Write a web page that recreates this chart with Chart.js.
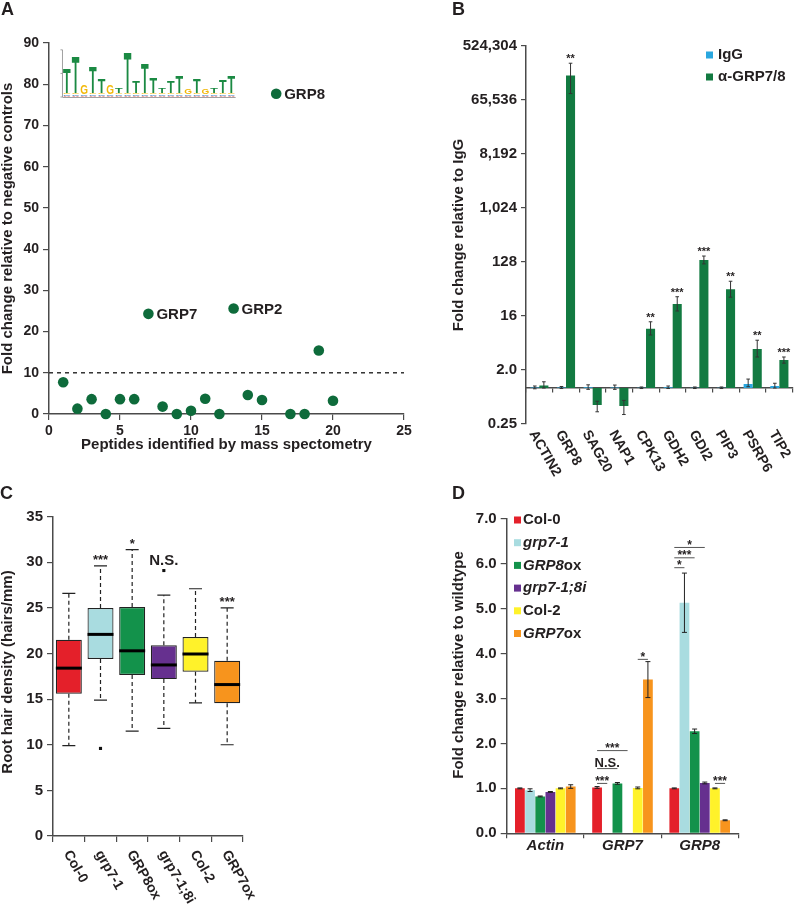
<!DOCTYPE html>
<html>
<head>
<meta charset="utf-8">
<title>GRP7/GRP8 figure</title>
<script src="https://cdn.jsdelivr.net/npm/chart.js@4.4.1/dist/chart.umd.min.js"></script>
<style>
  html, body { margin:0; padding:0; background:#ffffff; }
  body { position:relative; width:800px; height:906px; overflow:hidden; }
  canvas { position:absolute; display:block; }
</style>
</head>
<body>
<canvas id="chartA" width="420" height="460" style="left:0;top:0"></canvas>
<canvas id="chartB" width="380" height="495" style="left:420px;top:0"></canvas>
<canvas id="chartC" width="400" height="446" style="left:0;top:460px"></canvas>
<canvas id="chartD" width="400" height="446" style="left:400px;top:460px"></canvas>
<script>
// ================= DATA =================
// ---- Panel A: peptides identified by mass spectrometry ----
const peptideIndex = [1,2,3,4,5,6,7,8,9,10,11,12,13,14,15,16,17,18,19,20];
const peptideFold  = [7.7,1.3,3.6,0,3.6,3.6,24.3,1.8,0,0.8,3.7,0,25.6,4.6,3.4,77.7,0,0,15.4,3.2];
const peptideLabel = ['','','','','','','GRP7','','','','','','GRP2','','','GRP8','','','',''];
const foldThreshold = 10;
// sequence logo inset (letter, information content in bits)
const logoLetters = ['T','T','G','T','T','G','T','T','T','T','T','T','T','T','G','T','G','T','T','T'];
const logoBits    = [2.1,3.1,0.8,2.2,1.2,0.8,0.45,3.4,0.95,2.5,1.3,0.45,0.95,1.45,0.45,1.2,0.45,0.45,1.05,1.45];

// ---- Panel B: RIP-qPCR, fold change relative to IgG (log2 axis) ----
const chipGenes = ['ACTIN2','GRP8','SAG20','NAP1','CPK13','GDH2','GDI2','PIP3','PSRP6','TIP2'];
const iggFold   = [1.02,1.02,1.03,1.02,1.01,1.03,1.01,1.01,1.17,1.08];
const iggLow    = [0.97,0.98,0.95,0.95,0.98,0.98,0.98,0.98,1.05,1.00];
const iggHigh   = [1.08,1.06,1.13,1.12,1.04,1.08,1.04,1.04,1.41,1.20];
const grpFold   = [1.1,169000,0.52,0.5,9.8,25.4,138,44.7,4.5,2.94];
const grpLow    = [1.0,84000,0.40,0.36,7.7,19.4,119,33,3.3,2.6];
const grpHigh   = [1.27,270000,0.60,0.62,12.8,33.6,161,61,6.3,3.3];
const grpSig    = ['','**','','','**','***','***','**','**','***'];
const chipTickValues = [0.25,2,16,128,1024,8192,65536,524288];
const chipTickLabels = ['0.25','2.0','16','128','1,024','8,192','65,536','524,304'];

// ---- Panel C: root hair density box plots ----
const hairLines   = ['Col-0','grp7-1','GRP8ox','grp7-1;8i','Col-2','GRP7ox'];
const boxQ1       = [15.6,19.4,17.65,17.2,18.0,14.55];
const boxQ3       = [21.5,25.0,25.1,20.9,21.8,19.2];
const boxMedian   = [18.4,22.1,20.3,18.75,19.95,16.6];
const whiskerLow  = [9.9,14.9,11.5,11.8,14.6,10.0];
const whiskerHigh = [26.6,29.6,31.4,26.4,27.1,25.0];
const outlierVals = [null,9.6,null,29.1,null,null];
const hairSig     = ['','***','*','N.S.','','***'];

// ---- Panel D: qPCR fold change relative to wildtype ----
const qpcrGenes  = ['Actin','GRP7','GRP8'];
const genotypes  = ['Col-0','grp7-1','GRP8ox','grp7-1;8i','Col-2','GRP7ox'];
const foldCol0   = [1.00,1.02,1.00];
const foldGrp71  = [0.96,0.01,5.13];
const foldGrp8ox = [0.82,1.11,2.27];
const foldGrp718i= [0.92,0.01,1.12];
const foldCol2   = [1.00,1.01,1.00];
const foldGrp7ox = [1.04,3.42,0.29];
const errCol0    = [0.01,0.02,0.01];
const errGrp71   = [0.03,0.005,0.66];
const errGrp8ox  = [0.01,0.02,0.05];
const errGrp718i = [0.01,0.005,0.02];
const errCol2    = [0.01,0.02,0.01];
const errGrp7ox  = [0.04,0.40,0.01];
// comparison brackets: gene group, genotype from, genotype to, y value, label
const qpcrBrackets = [
  {g:1, a:0, b:1, y:1.11, t:'***'},
  {g:1, a:0, b:2, y:1.44, t:'N.S.'},
  {g:1, a:0, b:3, y:1.84, t:'***'},
  {g:1, a:4, b:5, y:3.87, t:'*'},
  {g:2, a:0, b:1, y:5.91, t:'*'},
  {g:2, a:0, b:2, y:6.13, t:'***'},
  {g:2, a:0, b:3, y:6.36, t:'*'},
  {g:2, a:4, b:5, y:1.11, t:'***'}
];

// ================= STYLE =================
const FONT = '"Liberation Sans", Arial, Helvetica, sans-serif';
const TEXT = '#231f20';
const AXIS = '#4a4a4a';
const GREEN_DOT = '#0e6b3b';
const GREEN_BAR = '#127a41';
const BLUE_BAR  = '#2aa7df';
const GENO = ['#e4202a','#a9dce0','#13924b','#66308f','#fff22a','#f7941d'];

Chart.defaults.font.family = FONT;
Chart.defaults.font.weight = 'bold';
Chart.defaults.color = TEXT;

function txt(ctx, s, x, y, o) {
  o = o || {};
  ctx.save();
  ctx.font = o.font || ('bold 15px ' + FONT);
  ctx.fillStyle = o.color || TEXT;
  ctx.textAlign = o.align || 'center';
  ctx.textBaseline = o.baseline || 'middle';
  ctx.translate(x, y);
  if (o.rot) ctx.rotate(o.rot * Math.PI / 180);
  ctx.fillText(s, 0, 0);
  ctx.restore();
}
function errorBar(ctx, x, yTop, yBot, cap, color, lw) {
  ctx.save();
  ctx.strokeStyle = color; ctx.lineWidth = lw || 1;
  ctx.beginPath();
  ctx.moveTo(x, yTop); ctx.lineTo(x, yBot);
  ctx.moveTo(x - cap, yTop); ctx.lineTo(x + cap, yTop);
  ctx.moveTo(x - cap, yBot); ctx.lineTo(x + cap, yBot);
  ctx.stroke();
  ctx.restore();
}
function rotatedCategoryLabels(chart, labels, dx, y, deg, font) {
  const xs = chart.scales.x, ctx = chart.ctx;
  labels.forEach((lab, i) => {
    txt(ctx, lab, xs.getPixelForTick(i) + dx, y, {font: font, align: 'left', baseline: 'top', rot: deg});
  });
}
function stretchLetter(ctx, L, cx, bottom, w, h, color) {
  if (h < 0.8) return;
  ctx.save();
  ctx.font = 'bold 20px ' + FONT;
  ctx.fillStyle = color; ctx.textAlign = 'left'; ctx.textBaseline = 'alphabetic';
  const m = ctx.measureText(L);
  const gw = m.actualBoundingBoxRight + m.actualBoundingBoxLeft;
  const gh = m.actualBoundingBoxAscent + m.actualBoundingBoxDescent;
  ctx.translate(cx - w / 2, bottom);
  ctx.scale(w / gw, h / gh);
  ctx.fillText(L, m.actualBoundingBoxLeft, -m.actualBoundingBoxDescent);
  ctx.restore();
}
const axisGrid = (tl) => ({drawOnChartArea: false, drawTicks: true, tickLength: tl, color: AXIS, lineWidth: 1.2});
const axisBorder = {color: AXIS, width: 1.5};

// ================= PANEL A =================
const LOGO = {axisX: 0.95, x0: 1.25, step: 0.61, baseY: 76.9, bitY: 2.86, letterW: 7.5};
const aPlugin = {
  id: 'aDeco',
  afterDatasetsDraw(chart) {
    const {ctx, scales: {x, y}} = chart;
    const meta = chart.getDatasetMeta(0);
    peptideLabel.forEach((n, i) => {
      if (n) txt(ctx, n, meta.data[i].x + 8, meta.data[i].y + 1, {align: 'left', font: 'bold 15px ' + FONT});
    });
    // sequence logo inset
    const base = y.getPixelForValue(LOGO.baseY);
    const bit = base - y.getPixelForValue(LOGO.baseY + LOGO.bitY);
    const ax = x.getPixelForValue(LOGO.axisX);
    ctx.save();
    ctx.strokeStyle = '#8a8a8a'; ctx.lineWidth = 0.8;
    ctx.beginPath();
    ctx.moveTo(ax, base); ctx.lineTo(ax, base - 4 * bit);
    [0, 2, 4].forEach(b => { ctx.moveTo(ax - 2, base - b * bit); ctx.lineTo(ax, base - b * bit); });
    ctx.moveTo(ax, base + 0.5); ctx.lineTo(x.getPixelForValue(LOGO.x0 + 19.5 * LOGO.step), base + 0.5);
    ctx.stroke();
    ctx.restore();
    logoLetters.forEach((L, i) => {
      const cx = x.getPixelForValue(LOGO.x0 + i * LOGO.step);
      let b = base;
      stretchLetter(ctx, 'A', cx, b, LOGO.letterW, 0.12 * bit, '#e0403a'); b -= 0.12 * bit;
      stretchLetter(ctx, 'C', cx, b, LOGO.letterW, 0.1 * bit, '#3b83c4'); b -= 0.1 * bit;
      if (L === 'T') { stretchLetter(ctx, 'G', cx, b, LOGO.letterW, 0.12 * bit, '#f2b807'); b -= 0.12 * bit; }
      stretchLetter(ctx, L, cx, b, LOGO.letterW, logoBits[i] * bit, L === 'T' ? '#1b8a43' : '#f2b807');
    });
  },
  afterDraw(chart) {
    const ctx = chart.ctx, ca = chart.chartArea;
    txt(ctx, 'A', 1, 10, {align: 'left', font: 'bold 18px ' + FONT});
    txt(ctx, 'Fold change relative to negative controls', 8, (ca.top + ca.bottom) / 2, {rot: -90});
    txt(ctx, 'Peptides identified by mass spectometry', (ca.left + ca.right) / 2, 445);
  }
};
new Chart(document.getElementById('chartA'), {
  type: 'scatter',
  data: {
    datasets: [
      {data: peptideIndex.map((v, i) => ({x: v, y: peptideFold[i]})), backgroundColor: GREEN_DOT, borderColor: GREEN_DOT,
       pointRadius: 5.3, pointHoverRadius: 5.3, borderWidth: 0, clip: false},
      {type: 'line', data: [{x: 0, y: foldThreshold}, {x: 25, y: foldThreshold}], borderColor: '#333', borderWidth: 1.5,
       borderDash: [4, 4], pointRadius: 0, fill: false}
    ]
  },
  options: {
    responsive: false, animation: false, events: [],
    layout: {padding: {top: 43, right: 16, left: 0, bottom: 0}},
    plugins: {legend: {display: false}, tooltip: {enabled: false}},
    scales: {
      x: {type: 'linear', min: 0, max: 25, ticks: {stepSize: 5, font: {size: 14}, padding: 3, color: TEXT},
          grid: axisGrid(6), border: axisBorder, afterFit(s) { s.height = 46; }},
      y: {min: 0, max: 90, ticks: {stepSize: 10, font: {size: 14}, padding: 4, color: TEXT},
          grid: axisGrid(6), border: axisBorder, afterFit(s) { s.width = 49; }}
    }
  },
  plugins: [aPlugin]
});

// ================= PANEL B =================
const bPlugin = {
  id: 'bDeco',
  afterDatasetsDraw(chart) {
    const {ctx, scales: {y}} = chart;
    [[iggLow, iggHigh], [grpLow, grpHigh]].forEach((pair, d) => {
      chart.getDatasetMeta(d).data.forEach((bar, i) => {
        errorBar(ctx, bar.x, y.getPixelForValue(pair[1][i]), y.getPixelForValue(pair[0][i]), 1.8, '#333', 1);
      });
    });
    chart.getDatasetMeta(1).data.forEach((bar, i) => {
      if (grpSig[i]) txt(ctx, grpSig[i], bar.x, y.getPixelForValue(grpHigh[i]) - 1, {font: 'bold 11px ' + FONT, baseline: 'alphabetic'});
    });
  },
  afterDraw(chart) {
    const ctx = chart.ctx, ca = chart.chartArea;
    rotatedCategoryLabels(chart, chipGenes, -1, 428, 60, 'bold 14px ' + FONT);
    txt(ctx, 'B', 32, 10, {align: 'left', font: 'bold 18px ' + FONT});
    txt(ctx, 'Fold change relative to IgG', 39, (ca.top + ca.bottom) / 2, {rot: -90});
    // legend
    chart.data.datasets.forEach((ds, k) => {
      const cy = 55 + k * 22;
      ctx.fillStyle = ds.backgroundColor;
      ctx.fillRect(286, cy - 3.5, 7, 7);
      txt(ctx, ds.label, 298, cy, {align: 'left', font: 'bold 15px ' + FONT});
    });
  }
};
new Chart(document.getElementById('chartB'), {
  type: 'bar',
  data: {
    labels: chipGenes,
    datasets: [
      {label: 'IgG', data: iggFold, backgroundColor: BLUE_BAR, base: 1},
      {label: '\u03b1-GRP7/8', data: grpFold, backgroundColor: GREEN_BAR, base: 1}
    ]
  },
  options: {
    responsive: false, animation: false, events: [],
    layout: {padding: {top: 46, right: 7.3, left: 0, bottom: 71}},
    datasets: {bar: {categoryPercentage: 0.68, barPercentage: 1.0}},
    plugins: {legend: {display: false}, tooltip: {enabled: false}},
    scales: {
      x: {position: {y: 1}, ticks: {display: false}, grid: Object.assign(axisGrid(4), {offset: true}), border: axisBorder},
      y: {type: 'logarithmic', min: 0.25, max: 524288,
          afterBuildTicks(s) { s.ticks = chipTickValues.map(v => ({value: v})); },
          ticks: {callback: (v, i) => chipTickLabels[i], font: {size: 15}, padding: 4, color: TEXT},
          grid: axisGrid(5), border: axisBorder, afterFit(s) { s.width = 106; }}
    }
  },
  plugins: [bPlugin]
});

// ================= PANEL C =================
const cPlugin = {
  id: 'cDeco',
  afterDatasetsDraw(chart) {
    const {ctx, scales: {y}} = chart;
    const meta = chart.getDatasetMeta(0);
    meta.data.forEach((bar, i) => {
      const x = bar.x;
      ctx.save();
      ctx.strokeStyle = '#222'; ctx.lineWidth = 1.2;
      ctx.setLineDash([4, 3]);
      ctx.beginPath();
      ctx.moveTo(x, y.getPixelForValue(boxQ3[i])); ctx.lineTo(x, y.getPixelForValue(whiskerHigh[i]));
      ctx.moveTo(x, y.getPixelForValue(boxQ1[i])); ctx.lineTo(x, y.getPixelForValue(whiskerLow[i]));
      ctx.stroke();
      ctx.setLineDash([]);
      ctx.beginPath();
      [whiskerHigh[i], whiskerLow[i]].forEach(v => { const py = y.getPixelForValue(v); ctx.moveTo(x - 6.5, py); ctx.lineTo(x + 6.5, py); });
      ctx.stroke();
      // median
      ctx.strokeStyle = '#000'; ctx.lineWidth = 3;
      ctx.beginPath();
      const my = y.getPixelForValue(boxMedian[i]);
      ctx.moveTo(bar.x - bar.width / 2, my); ctx.lineTo(bar.x + bar.width / 2, my);
      ctx.stroke();
      ctx.restore();
      if (hairSig[i]) {
        const top = outlierVals[i] != null && outlierVals[i] > whiskerHigh[i] ? outlierVals[i] : whiskerHigh[i];
        const ns = hairSig[i] === 'N.S.';
        txt(ctx, hairSig[i], x, y.getPixelForValue(top) - (ns ? 6 : 1.5),
            {baseline: 'alphabetic', font: ns ? 'bold 15px ' + FONT : 'bold 13px ' + FONT});
      }
    });
  },
  afterDraw(chart) {
    const ctx = chart.ctx, ca = chart.chartArea;
    rotatedCategoryLabels(chart, hairLines, 4, ca.bottom + 12, 60, 'bold 14px ' + FONT);
    txt(ctx, 'C', 0, 34, {align: 'left', font: 'bold 18px ' + FONT});
    txt(ctx, 'Root hair density (hairs/mm)', 8, 212, {rot: -90});
  }
};
new Chart(document.getElementById('chartC'), {
  type: 'bar',
  data: {
    labels: hairLines,
    datasets: [
      {data: hairLines.map((_, i) => [boxQ1[i], boxQ3[i]]), backgroundColor: GENO, borderColor: '#222', borderWidth: 1.2,
       borderSkipped: false, barPercentage: 0.82, categoryPercentage: 1.0},
      {type: 'line', data: outlierVals, showLine: false, pointStyle: 'rect', pointRadius: 2.2, backgroundColor: '#111',
       borderColor: '#111', borderWidth: 0, clip: false}
    ]
  },
  options: {
    responsive: false, animation: false, events: [],
    layout: {padding: {top: 56.7, right: 157, left: 0, bottom: 0}},
    plugins: {legend: {display: false}, tooltip: {enabled: false}},
    scales: {
      x: {ticks: {display: false}, grid: Object.assign(axisGrid(6), {offset: true}), border: axisBorder, afterFit(s) { s.height = 70; }},
      y: {min: 0, max: 35, ticks: {stepSize: 5, font: {size: 15}, padding: 4, color: TEXT},
          grid: axisGrid(6), border: axisBorder, afterFit(s) { s.width = 53; }}
    }
  },
  plugins: [cPlugin]
});

// ================= PANEL D =================
const foldSeries = [foldCol0, foldGrp71, foldGrp8ox, foldGrp718i, foldCol2, foldGrp7ox];
const errSeries  = [errCol0, errGrp71, errGrp8ox, errGrp718i, errCol2, errGrp7ox];
function legendSegments(g) {
  if (/ox$/.test(g)) return [[g.slice(0, -2), true], ['ox', false]];
  if (/^grp/.test(g)) return [[g, true]];
  return [[g, false]];
}
const dPlugin = {
  id: 'dDeco',
  afterDatasetsDraw(chart) {
    const {ctx, scales: {y}} = chart;
    errSeries.forEach((errs, k) => {
      chart.getDatasetMeta(k).data.forEach((bar, g) => {
        const v = foldSeries[k][g], e = errs[g];
        if (e < 0.008) return;
        errorBar(ctx, bar.x, y.getPixelForValue(v + e), y.getPixelForValue(v - e), 2.5, '#222', 1);
      });
    });
    qpcrBrackets.forEach(br => {
      const xa = chart.getDatasetMeta(br.a).data[br.g].x;
      const xb = chart.getDatasetMeta(br.b).data[br.g].x;
      const py = y.getPixelForValue(br.y);
      ctx.save();
      ctx.strokeStyle = '#555'; ctx.lineWidth = 1;
      ctx.beginPath(); ctx.moveTo(xa, py); ctx.lineTo(xb, py); ctx.stroke();
      ctx.restore();
      const ns = br.t === 'N.S.';
      txt(ctx, br.t, (xa + xb) / 2, ns ? py - 1.5 : py + 1.5,
          {baseline: 'alphabetic', font: ns ? 'bold 13px ' + FONT : 'bold 12px ' + FONT});
    });
  },
  afterDraw(chart) {
    const ctx = chart.ctx;
    txt(ctx, 'D', 52, 34, {align: 'left', font: 'bold 18px ' + FONT});
    txt(ctx, 'Fold change relative to wildtype', 59, 205, {rot: -90});
    genotypes.forEach((g, k) => {
      const cy = 60 + k * 22.7;
      ctx.fillStyle = GENO[k];
      ctx.fillRect(114, cy - 3.5, 7, 7);
      let x = 123;
      legendSegments(g).forEach(seg => {
        const f = (seg[1] ? 'italic ' : '') + 'bold 15px ' + FONT;
        txt(ctx, seg[0], x, cy, {align: 'left', font: f});
        ctx.font = f;
        x += ctx.measureText(seg[0]).width;
      });
    });
  }
};
new Chart(document.getElementById('chartD'), {
  type: 'bar',
  data: {
    labels: qpcrGenes,
    datasets: genotypes.map((g, k) => ({label: g, data: foldSeries[k], backgroundColor: GENO[k], borderWidth: 0}))
  },
  options: {
    responsive: false, animation: false, events: [],
    layout: {padding: {top: 58.7, right: 61.7, left: 0, bottom: 0}},
    datasets: {bar: {categoryPercentage: 0.79, barPercentage: 0.96}},
    plugins: {legend: {display: false}, tooltip: {enabled: false}},
    scales: {
      x: {ticks: {font: {size: 15, style: 'italic', weight: 'bold'}, padding: -1, color: TEXT},
          grid: Object.assign(axisGrid(5), {offset: true}), border: axisBorder, afterFit(s) { s.height = 72.7; }},
      y: {min: 0, max: 7, ticks: {stepSize: 1, callback: v => v.toFixed(1), font: {size: 15}, padding: 4, color: TEXT},
          grid: axisGrid(6), border: axisBorder, afterFit(s) { s.width = 106.7; }}
    }
  },
  plugins: [dPlugin]
});
</script>
</body>
</html>
